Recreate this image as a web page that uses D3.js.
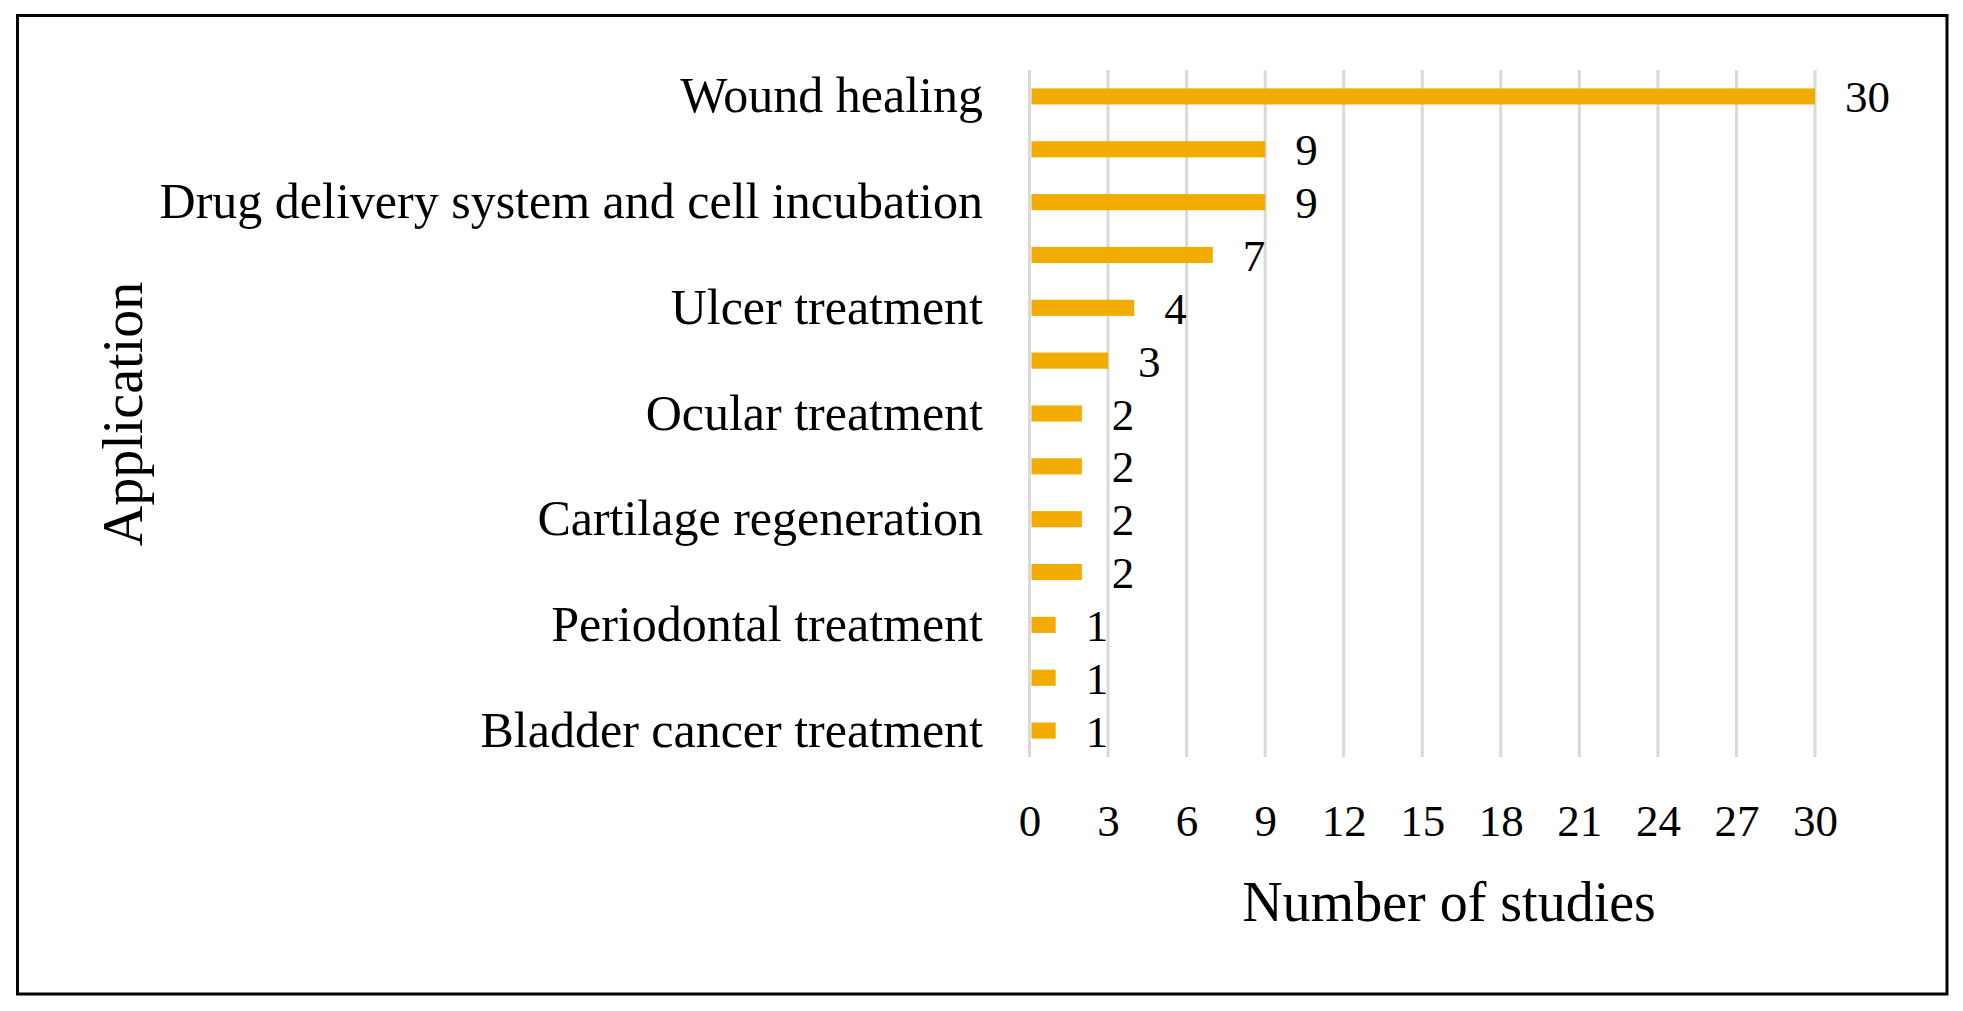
<!DOCTYPE html>
<html>
<head>
<meta charset="utf-8">
<script src="https://cdn.jsdelivr.net/npm/d3@7"></script>
<style>
  html, body { margin: 0; padding: 0; background: #ffffff; }
  svg { display: block; }
  text { font-family: "Liberation Serif", "Times New Roman", serif; fill: #000; }
</style>
</head>
<body>
<svg id="chart" width="1963" height="1011"></svg>
<script>
// Category labels (only every other label is printed in the original chart)
const categories = [
  "Wound healing",
  "",
  "Drug delivery system and cell incubation",
  "",
  "Ulcer treatment",
  "",
  "Ocular treatment",
  "",
  "Cartilage regeneration",
  "",
  "Periodontal treatment",
  "",
  "Bladder cancer treatment"
];
const values = [30, 9, 9, 7, 4, 3, 2, 2, 2, 2, 1, 1, 1];
const xTicks = [0, 3, 6, 9, 12, 15, 18, 21, 24, 27, 30];
const xTitle = "Number of studies";
const yTitle = "Application";

const svg = d3.select("#chart");

// frame
svg.append("rect")
  .attr("x", 17.5).attr("y", 15.5)
  .attr("width", 1929.5).attr("height", 978.5)
  .attr("fill", "none").attr("stroke", "#000").attr("stroke-width", 3);

const plot = { left: 1029.5, right: 1815, top: 70, bottom: 757 };

const x = d3.scaleLinear().domain([0, 30]).range([plot.left, plot.right]);
const y = d3.scaleBand()
  .domain(d3.range(categories.length))
  .range([plot.top, plot.bottom])
  .paddingInner(0.695)
  .paddingOuter(0.3475);

// gridlines
svg.append("g").selectAll("line")
  .data(xTicks)
  .join("line")
  .attr("x1", d => x(d)).attr("x2", d => x(d))
  .attr("y1", plot.top).attr("y2", plot.bottom)
  .attr("stroke", "#d9d9d9").attr("stroke-width", 3);

// bars
svg.append("g").selectAll("rect")
  .data(values)
  .join("rect")
  .attr("x", x(0) + 2)
  .attr("y", (d, i) => y(i))
  .attr("width", d => x(d) - x(0) - 2)
  .attr("height", y.bandwidth())
  .attr("fill", "#f2ac00");

// value labels
svg.append("g").selectAll("text")
  .data(values)
  .join("text")
  .attr("x", d => x(d) + 30)
  .attr("y", (d, i) => y(i) + y.bandwidth() / 2 + 16)
  .attr("font-size", 45)
  .text(d => d);

// category labels via axis
const yAxis = d3.axisLeft(y).tickSize(0).tickPadding(0).tickFormat(i => categories[i]);
const yg = svg.append("g").attr("transform", `translate(${983},0)`).call(yAxis);
yg.select(".domain").remove();
yg.selectAll("text")
  .attr("font-size", 50)
  .attr("font-family", "Liberation Serif, serif")
  .attr("fill", "#000")
  .attr("dy", null)
  .attr("y", 16);

// x tick labels via axis
const xAxis = d3.axisBottom(x).tickValues(xTicks).tickSize(0).tickPadding(0).tickFormat(d3.format("d"));
const xg = svg.append("g").attr("transform", `translate(0,${836})`).call(xAxis);
xg.select(".domain").remove();
xg.selectAll("text")
  .attr("font-size", 45)
  .attr("font-family", "Liberation Serif, serif")
  .attr("fill", "#000")
  .attr("dy", null)
  .attr("y", 0);

// axis titles
svg.append("text")
  .attr("x", 1449).attr("y", 921)
  .attr("text-anchor", "middle")
  .attr("font-size", 56)
  .text(xTitle);

svg.append("text")
  .attr("transform", "translate(142,414) rotate(-90)")
  .attr("text-anchor", "middle")
  .attr("font-size", 56)
  .text(yTitle);
</script>
</body>
</html>
